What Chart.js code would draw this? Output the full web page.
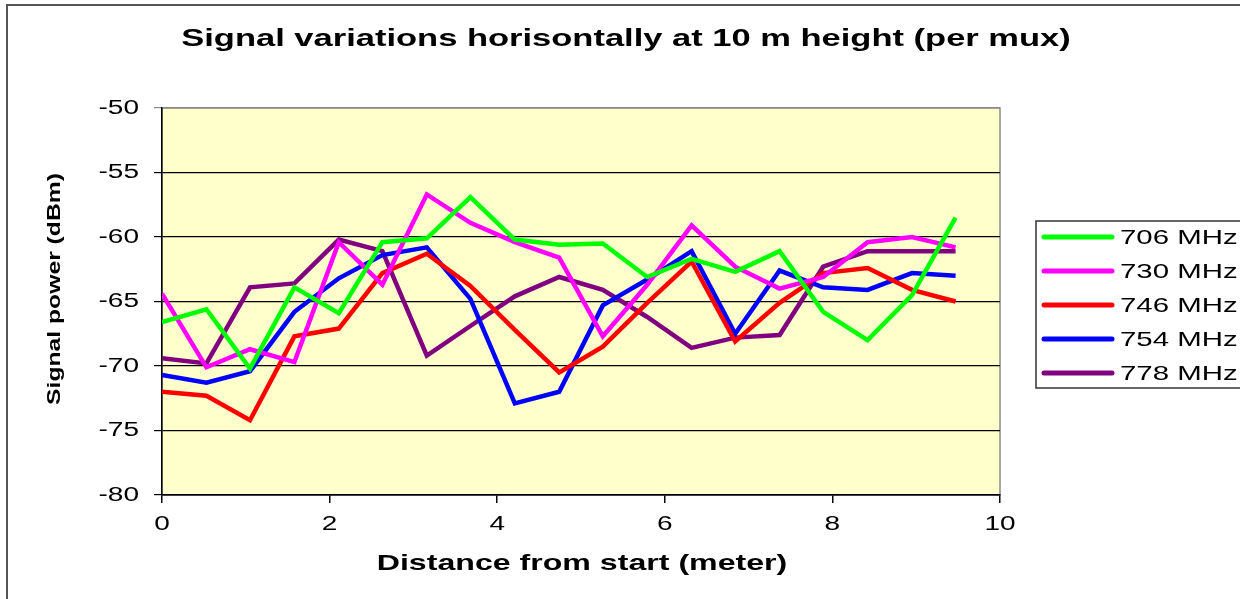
<!DOCTYPE html>
<html>
<head>
<meta charset="utf-8">
<script src="https://cdn.jsdelivr.net/npm/chart.js@4.4.0/dist/chart.umd.min.js"></script>
<style>
  html, body { margin: 0; padding: 0; background: #fff; }
  #wrap { width: 1240px; height: 599px; position: relative; }
</style>
</head>
<body>
<div id="wrap"><canvas id="c" width="1240" height="599"></canvas></div>
<script>
// Texts
const chartTitle = 'Signal variations horisontally at 10 m height (per mux)';
const xAxisTitle = 'Distance from start (meter)';
const yAxisTitle = 'Signal power (dBm)';

// Measurement positions (meter)
const distances = [0, 0.53, 1.05, 1.58, 2.11, 2.63, 3.16, 3.68, 4.21, 4.74,
                   5.26, 5.79, 6.32, 6.84, 7.37, 7.89, 8.42, 8.95, 9.47];

// Signal power per mux (dBm)
const mux706 = [-66.6, -65.6, -70.2, -63.9, -65.9, -60.4, -60.1, -56.9, -60.2, -60.6,
                -60.5, -63.1, -61.7, -62.7, -61.1, -65.8, -68.0, -64.5, -58.5];
const mux730 = [-64.4, -70.1, -68.7, -69.7, -60.4, -63.7, -56.7, -58.9, -60.4, -61.6,
                -67.7, -63.7, -59.1, -62.3, -64.0, -63.1, -60.4, -60.0, -60.8];
const mux746 = [-72.0, -72.3, -74.2, -67.7, -67.1, -62.8, -61.3, -63.8, -67.2, -70.5,
                -68.5, -65.1, -61.9, -68.1, -65.1, -62.8, -62.4, -64.1, -65.0];
const mux754 = [-70.7, -71.3, -70.4, -65.8, -63.2, -61.4, -60.8, -64.8, -72.9, -72.0,
                -65.3, -63.3, -61.1, -67.5, -62.6, -63.9, -64.1, -62.8, -63.0];
const mux778 = [-69.4, -69.8, -63.9, -63.6, -60.2, -61.1, -69.2, -66.9, -64.6, -63.1,
                -64.1, -66.2, -68.6, -67.8, -67.6, -62.3, -61.1, -61.1, -61.1];

const seriesNames  = ['706 MHz', '730 MHz', '746 MHz', '754 MHz', '778 MHz'];
const seriesValues = [mux706, mux730, mux746, mux754, mux778];
const seriesColors = ['#00FF00', '#FF00FF', '#FF0000', '#0000FF', '#800080'];

// Axis ranges
const xMin = 0, xMax = 10, xStep = 2;
const yMin = -80, yMax = -50, yStep = 5;

const FONT = '"Liberation Sans", Arial, sans-serif';
const NARROW = '"Liberation Sans Narrow", "Liberation Sans", Arial, sans-serif';

// Draws horizontally widened text
function wideText(ctx, text, x, y, font, sx, align, rotate) {
  ctx.save();
  ctx.translate(x, y);
  if (rotate) ctx.rotate(-Math.PI / 2);
  ctx.scale(sx, 1);
  ctx.font = font;
  ctx.fillStyle = '#000';
  ctx.textAlign = align;
  ctx.textBaseline = 'middle';
  ctx.fillText(text, 0, 0);
  ctx.restore();
}

const frame = {
  id: 'frame',
  beforeDraw(chart) {
    const ctx = chart.ctx, a = chart.chartArea;
    ctx.save();
    ctx.fillStyle = '#fff';
    ctx.fillRect(0, 0, chart.width, chart.height);
    ctx.strokeStyle = '#555';
    ctx.lineWidth = 2;
    ctx.strokeRect(7, 5, chart.width + 20, chart.height + 20);
    ctx.fillStyle = '#FFFFCC';
    ctx.fillRect(a.left, a.top, a.right - a.left, a.bottom - a.top);
    ctx.strokeStyle = '#8a8a8a';
    ctx.lineWidth = 1.5;
    ctx.strokeRect(a.left, a.top, a.right - a.left, a.bottom - a.top);
    ctx.restore();
  },
  afterDraw(chart) {
    const ctx = chart.ctx, a = chart.chartArea;
    const xs = chart.scales.x, ys = chart.scales.y;
    // title
    wideText(ctx, chartTitle, 626, 40, 'bold 23px ' + FONT, 1.5, 'center');
    // tick labels
    ys.ticks.forEach(t => {
      wideText(ctx, String(t.value), 139, ys.getPixelForValue(t.value), '20px ' + FONT, 1.4, 'right');
    });
    xs.ticks.forEach(t => {
      wideText(ctx, String(t.value), xs.getPixelForValue(t.value), 524, '20px ' + FONT, 1.4, 'center');
    });
    // axis titles
    wideText(ctx, xAxisTitle, 582, 564, 'bold 22px ' + FONT, 1.46, 'center');
    wideText(ctx, yAxisTitle, 55, 289, 'bold 19px ' + NARROW, 1.3, 'center', true);
    // legend
    ctx.save();
    ctx.strokeStyle = '#333';
    ctx.lineWidth = 1.5;
    ctx.strokeRect(1036, 221, 240, 167);
    ctx.restore();
    chart.data.datasets.forEach((ds, i) => {
      const y = 237 + i * 34;
      ctx.save();
      ctx.strokeStyle = ds.borderColor;
      ctx.lineWidth = 5;
      ctx.lineCap = 'round';
      ctx.beginPath();
      ctx.moveTo(1044, y);
      ctx.lineTo(1112, y);
      ctx.stroke();
      ctx.restore();
      wideText(ctx, ds.label, 1120, y + 1, '21px ' + FONT, 1.4, 'left');
    });
  }
};

new Chart(document.getElementById('c'), {
  type: 'line',
  data: {
    datasets: seriesNames.map((name, i) => ({
      label: name,
      data: distances.map((d, k) => ({ x: d, y: seriesValues[i][k] })),
      borderColor: seriesColors[i],
      backgroundColor: seriesColors[i],
      borderWidth: 4.5,
      pointRadius: 0,
      tension: 0,
      fill: false
    }))
  },
  options: {
    responsive: false,
    animation: false,
    devicePixelRatio: 1,
    layout: { padding: { top: 108, right: 240, left: 0, bottom: 0 } },
    plugins: { legend: { display: false }, title: { display: false }, tooltip: { enabled: false } },
    scales: {
      x: {
        type: 'linear', min: xMin, max: xMax,
        ticks: { stepSize: xStep, display: false },
        grid: { drawOnChartArea: false, drawTicks: true, tickLength: 8, color: '#000', lineWidth: 1.5 },
        border: { color: '#000', width: 1.5 },
        afterFit(s) { s.height = 104; }
      },
      y: {
        type: 'linear', min: yMin, max: yMax,
        ticks: { stepSize: yStep, display: false },
        grid: {
          color: c => (c.tick && c.tick.value === yMax) ? '#8a8a8a' : '#000',
          lineWidth: 1.2, tickLength: 8, drawTicks: true
        },
        border: { color: '#000', width: 1.5 },
        afterFit(s) { s.width = 162; }
      }
    }
  },
  plugins: [frame]
});
</script>
</body>
</html>
